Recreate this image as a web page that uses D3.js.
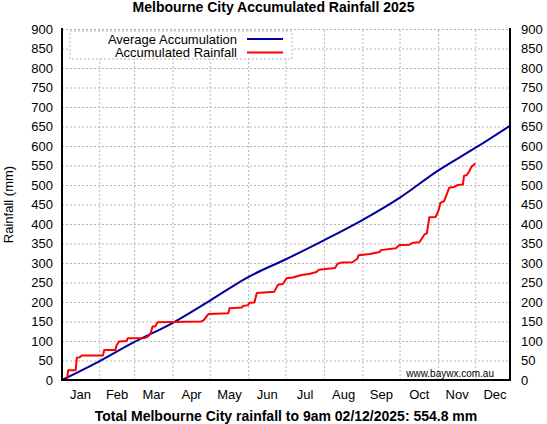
<!DOCTYPE html>
<html lang="en">
<head>
<meta charset="UTF-8">
<title>Melbourne City Accumulated Rainfall 2025</title>
<script src="https://d3js.org/d3.v7.min.js"></script>
<style>
  body { margin: 0; background: #fff; }
  text { font-family: "Liberation Sans", Arial, sans-serif; fill: #000; }
  .grid line { stroke: #b4b4b4; stroke-dasharray: 2,2; }
  .grid path { display: none; }
  .ticks path, .ticks line { display: none; }
</style>
</head>
<body>
<svg id="chart" width="547" height="424"></svg>
<script>
// month names and the day each month starts (Jan 1 = day 0)
const months = ["Jan", "Feb", "Mar", "Apr", "May", "Jun", "Jul", "Aug", "Sep", "Oct", "Nov", "Dec"];
const monthStarts = [0, 31, 59, 90, 120, 151, 181, 212, 243, 273, 304, 334, 365];
const yTicks = [0, 50, 100, 150, 200, 250, 300, 350, 400, 450, 500, 550, 600, 650, 700, 750, 800, 850, 900];

// long term average accumulation, at the month boundaries (mm)
const avgDays = [1, 31, 59, 90, 120, 151, 181, 212, 243, 273, 304, 334, 362];
const avgTotals = [0, 48, 97, 146, 203, 264, 309, 358, 410, 467, 537, 595, 652];

// 2025 accumulated rainfall, corners of the daily trace (day, mm)
const rainDays = [1, 5, 6, 12, 13, 15, 17, 34, 35, 44, 45, 47, 53, 54, 68, 70, 72, 74, 76, 78,
  113, 115, 119, 135, 136, 146, 147, 151, 152, 156, 158, 172, 175, 179, 182, 187, 194, 200,
  206, 208, 215, 221, 223, 226, 235, 239, 240, 249, 257, 258, 270, 273, 281, 284, 289, 291,
  293, 295, 297, 302, 304, 306, 309, 311, 313, 317, 320, 324, 325, 327, 329, 331, 334];
const rainTotals = [0, 0, 25, 25, 57, 58, 63, 63, 77, 77, 89, 99, 100, 107, 108, 111, 117, 137, 137, 148,
  150, 153, 169, 171, 184, 186, 190, 192, 198, 199, 223, 226, 244, 246, 261, 263, 269, 272,
  277, 283, 285, 287, 298, 301, 302, 311, 320, 323, 328, 333, 338, 346, 347, 352, 353, 363,
  373, 376, 417, 418, 431, 454, 459, 476, 493, 495, 500, 501, 524, 525, 534, 547, 555];

const totalText = "Total Melbourne City rainfall to 9am 02/12/2025: 554.8 mm";

const svg = d3.select("#chart");
const pLeft = 62, pRight = 510, pTop = 29, pBottom = 380;

const x = d3.scaleLinear().domain([1, 362]).range([pLeft, pRight]);
const y = d3.scaleLinear().domain([0, 900]).range([pBottom, pTop]);

// grid
svg.append("g")
  .attr("class", "grid")
  .attr("transform", `translate(${pLeft},0)`)
  .call(d3.axisLeft(y).tickValues(yTicks.slice(1)).tickSize(-(pRight - pLeft)).tickFormat(""));
svg.append("g")
  .attr("class", "grid")
  .attr("transform", `translate(0,${pBottom})`)
  .call(d3.axisBottom(x).tickValues(monthStarts.slice(1, 12)).tickSize(-(pBottom - pTop)).tickFormat(""));

// tick labels
svg.append("g")
  .attr("class", "ticks")
  .attr("transform", `translate(${pLeft},0)`)
  .call(d3.axisLeft(y).tickValues(yTicks).tickSize(0).tickPadding(9).tickFormat(d3.format("d")));
svg.append("g")
  .attr("class", "ticks")
  .attr("transform", `translate(${pRight},0)`)
  .call(d3.axisRight(y).tickValues(yTicks).tickSize(0).tickPadding(11).tickFormat(d3.format("d")));
const mids = months.map((m, i) => (monthStarts[i] + monthStarts[i + 1]) / 2);
svg.append("g")
  .attr("class", "ticks")
  .attr("transform", `translate(0,${pBottom})`)
  .call(d3.axisBottom(x).tickValues(mids).tickSize(0).tickPadding(10)
    .tickFormat((d, i) => months[i]));
svg.selectAll(".ticks text").attr("font-size", 13).attr("font-family", null);

// legend box
const lg = svg.append("g");
lg.append("rect")
  .attr("x", 70).attr("y", 31).attr("width", 222).attr("height", 28)
  .attr("fill", "#fff").attr("stroke", "#b4b4b4").attr("stroke-dasharray", "2,2");
const legend = [["Average Accumulation", "#00009c"], ["Accumulated Rainfall", "#ff0000"]];
legend.forEach(([name, col], i) => {
  const ly = 39 + i * 13.5;
  lg.append("text").attr("x", 237).attr("y", ly + 4.5)
    .attr("text-anchor", "end").attr("font-size", 13).text(name);
  lg.append("line").attr("x1", 247).attr("x2", 283).attr("y1", ly).attr("y2", ly)
    .attr("stroke", col).attr("stroke-width", 2);
});

// lines
const avgData = avgDays.map((d, i) => [d, avgTotals[i]]);
const rainData = rainDays.map((d, i) => [d, rainTotals[i]]);
const line = d3.line().x(d => x(d[0])).y(d => y(d[1]));

svg.append("path")
  .datum(avgData)
  .attr("d", line.curve(d3.curveMonotoneX))
  .attr("fill", "none").attr("stroke", "#00009c").attr("stroke-width", 2);
svg.append("path")
  .datum(rainData)
  .attr("d", line.curve(d3.curveLinear))
  .attr("fill", "none").attr("stroke", "#ff0000").attr("stroke-width", 2)
  .attr("stroke-linejoin", "round");

// border: left, bottom, right
svg.append("path")
  .attr("d", `M${pLeft},${pTop - 1}V${pBottom}H${pRight}V${pTop - 1}`)
  .attr("fill", "none").attr("stroke", "#000").attr("stroke-width", 2);

// watermark
svg.append("text")
  .attr("x", 494).attr("y", 377).attr("text-anchor", "end")
  .attr("font-size", 10).text("www.baywx.com.au");

// titles
svg.append("text")
  .attr("x", 273.5).attr("y", 12).attr("text-anchor", "middle")
  .attr("font-size", 14).attr("font-weight", "bold")
  .text("Melbourne City Accumulated Rainfall 2025");
svg.append("text")
  .attr("x", (pLeft + pRight) / 2).attr("y", 421).attr("text-anchor", "middle")
  .attr("font-size", 14).attr("font-weight", "bold")
  .text(totalText);
svg.append("text")
  .attr("transform", `translate(13,${(pTop + pBottom) / 2}) rotate(-90)`)
  .attr("text-anchor", "middle").attr("font-size", 13)
  .text("Rainfall (mm)");
</script>
</body>
</html>
